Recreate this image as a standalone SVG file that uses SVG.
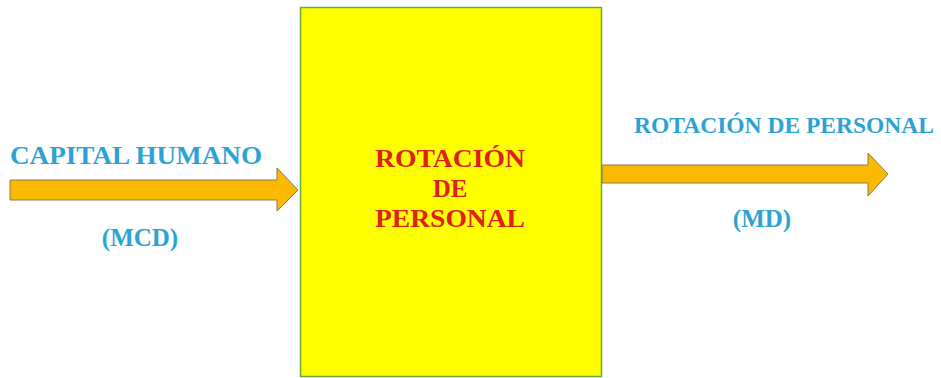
<svg xmlns="http://www.w3.org/2000/svg" width="941" height="378" viewBox="0 0 941 378">
<style>
.lbl{font-family:"Liberation Serif","DejaVu Serif",serif;font-weight:bold;font-size:25px;fill:#2ba4d4}
.red{font-family:"Liberation Serif","DejaVu Serif",serif;font-weight:bold;font-size:25px;fill:#e0201c}
.arr{fill:#fbb900;stroke:#8a7a50;stroke-width:1}
</style>
<rect width="941" height="378" fill="#ffffff"/>
<g id="box">
<rect x="300.5" y="7.5" width="301" height="369" fill="#ffff00" stroke="#6aaa3a" stroke-width="1.5"/>
<text class="red" text-anchor="middle" x="450" y="167" textLength="150" lengthAdjust="spacingAndGlyphs">ROTACIÓN</text>
<text class="red" text-anchor="middle" x="450" y="197">DE</text>
<text class="red" text-anchor="middle" x="450" y="227" textLength="150" lengthAdjust="spacingAndGlyphs">PERSONAL</text>
</g>
<g id="connectors">
<polygon class="arr" points="10,180 277,180 277,168 298,190 277,211 277,200 10,200"/>
<polygon class="arr" points="602,165 868,165 868,153 888,174 868,196 868,183 602,183"/>
</g>
<g id="labels">
<text class="lbl" x="10" y="164" textLength="252" lengthAdjust="spacingAndGlyphs">CAPITAL HUMANO</text>
<text class="lbl" text-anchor="middle" x="140" y="246">(MCD)</text>
<text class="lbl" x="634" y="133" style="font-size:23px" textLength="300" lengthAdjust="spacingAndGlyphs">ROTACIÓN DE PERSONAL</text>
<text class="lbl" text-anchor="middle" x="762" y="227">(MD)</text>
</g>
</svg>
